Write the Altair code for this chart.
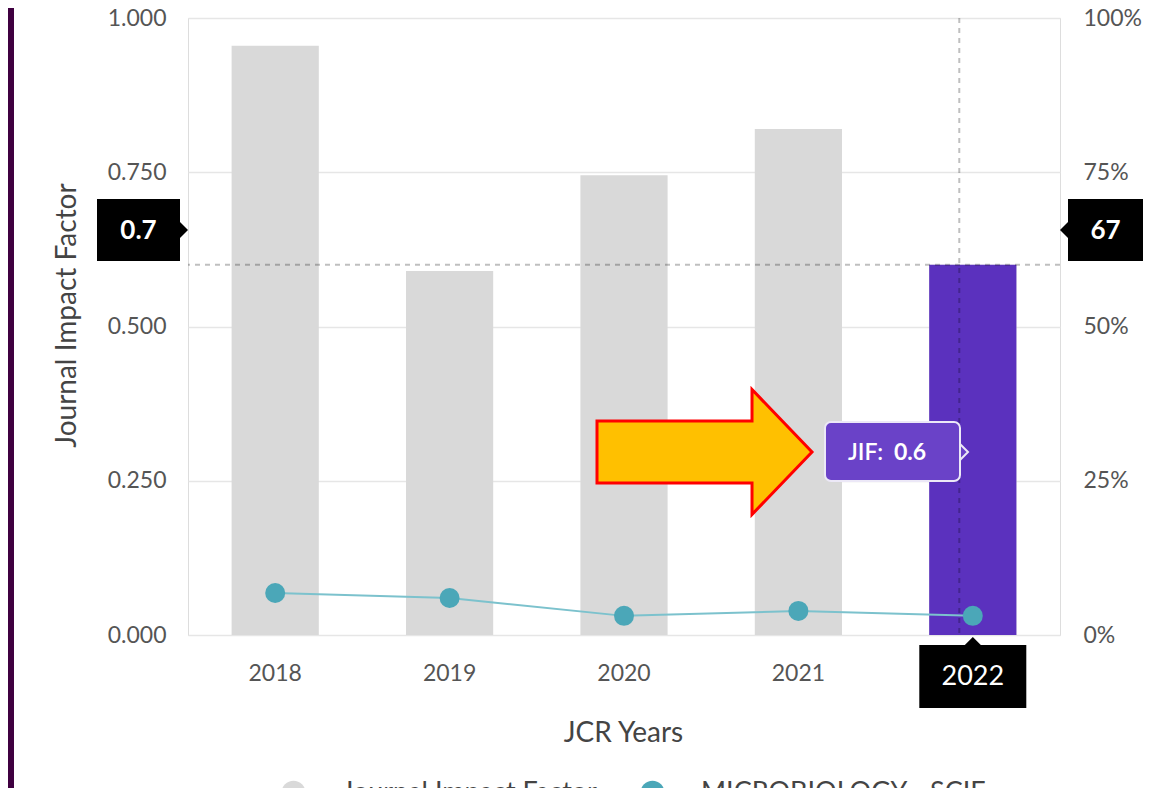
import altair as alt
import pandas as pd

# ---------------- data ----------------
years = ["2018", "2019", "2020", "2021", "2022"]
jif_values = [0.955, 0.59, 0.745, 0.82, 0.6]
category_pct = [6.8, 6.0, 3.1, 3.9, 3.1]
series_names = ["Journal Impact Factor", "MICROBIOLOGY - SCIE"]
series_colors = ["#d9d9d9", "#4ba7b8"]
highlight_year = "2022"
crosshair_jif = 0.6
left_marker_text = ["0.7"]
right_marker_text = ["67"]
tooltip_label = ["JIF:"]
tooltip_value = ["0.6"]
y_ticks = [0, 0.25, 0.5, 0.75, 1.0]
pct_ticks = [0, 25, 50, 75, 100]

FONT = "Lato"
W, H = 872, 617
PURPLE = "#5b31be"

bars_df = pd.DataFrame({"year": years, "jif": jif_values, "series": series_names[0]})
line_df = pd.DataFrame({"year": years, "pct": category_pct, "series": series_names[1]})
hl_df = bars_df[bars_df["year"] == highlight_year].reset_index(drop=True)
one = pd.DataFrame({"k": [0]})

x_axis = alt.Axis(labelFontSize=23, labelColor="#555", labelFont=FONT, labelPadding=27,
                  labelExpr=f"datum.label == '{highlight_year}' ? '' : datum.label",
                  ticks=False, domain=False, labelAngle=0, grid=False,
                  titleFontSize=28, titleColor="#444", titleFont=FONT, titleFontWeight="normal",
                  titleX=435, titleY=98, titleAlign="center", titleBaseline="middle")
x_scale = alt.Scale(domain=years, paddingInner=0.5, paddingOuter=0.25)


def xf(**kw):
    return alt.X("year:N", title="JCR Years", scale=x_scale, axis=x_axis, **kw)


y_scale = alt.Scale(domain=[0, 1], nice=False, zero=True)
y_axis = alt.Axis(values=y_ticks, format=".3f", labelFontSize=23, labelColor="#555", labelFont=FONT,
                  labelPadding=22, ticks=False, domain=False, gridColor="#e6e6e6", gridWidth=1.5,
                  titleFontSize=28, titleColor="#444", titleFont=FONT, titleFontWeight="normal",
                  titleX=-121, titleY=297, titleAngle=270, titleAlign="center", titleBaseline="middle")
y_title = "Journal Impact Factor"

pct_scale = alt.Scale(domain=[0, 100], nice=False, zero=True)
pct_axis = alt.Axis(values=pct_ticks, labelExpr="datum.value + '%'", orient="right", labelFontSize=23,
                    labelColor="#555", labelFont=FONT, labelPadding=23, ticks=False, domain=False,
                    grid=False, title=None)

color_enc = alt.Color("series:N", scale=alt.Scale(domain=series_names, range=series_colors),
                      legend=alt.Legend(orient="none", legendX=92, legendY=761, direction="horizontal",
                                        symbolType="circle", symbolSize=576, symbolStrokeWidth=0,
                                        labelFontSize=27, labelColor="#444", labelFont=FONT,
                                        labelOffset=35, columnPadding=42, labelLimit=0, padding=0,
                                        title=None))

# ---------------- left (JIF) layers ----------------
bars = alt.Chart(bars_df).mark_bar().encode(
    x=xf(), y=alt.Y("jif:Q", title=y_title, scale=y_scale, axis=y_axis), color=color_enc)
hl_bar = alt.Chart(hl_df).mark_bar(color=PURPLE).encode(
    x=xf(), y=alt.Y("jif:Q", title=y_title, scale=y_scale, axis=y_axis))
hrule = alt.Chart(one).mark_rule(color="black", opacity=0.25, strokeWidth=2, strokeDash=[5, 5]).encode(
    y=alt.YDatum(crosshair_jif, title=y_title, scale=y_scale, axis=y_axis))
vrule = alt.Chart(hl_df).mark_rule(color="black", opacity=0.25, strokeWidth=2, strokeDash=[5, 5]).encode(
    x=xf(bandPosition=0.345))
left = alt.layer(bars, hl_bar, hrule, vrule)

# ---------------- right (category %) layers ----------------
line = alt.Chart(line_df).mark_line(color="#7cc2cd", strokeWidth=2).encode(
    x=xf(), y=alt.Y("pct:Q", scale=pct_scale, axis=pct_axis))
pts = alt.Chart(line_df).mark_point(filled=True, size=400, opacity=1).encode(
    x=xf(), y=alt.Y("pct:Q", scale=pct_scale, axis=pct_axis), color=color_enc)
right = alt.layer(line, pts)

# ---------------- annotations ----------------
tri_right = "M-0.5,-1 L0.5,0 L-0.5,1 Z"
tri_left = "M0.5,-1 L-0.5,0 L0.5,1 Z"
tri_up = "M-1,0.5 L0,-0.5 L1,0.5 Z"
arrow_path = "M-1,-0.288 L0.442,-0.288 L0.442,-0.581 L1,0 L0.442,0.581 L0.442,0.288 L-1,0.288 Z"

frame = alt.Chart(one).mark_rect(color="#3f0040").encode(
    x=alt.value(-180), x2=alt.value(-174), y=alt.value(-10), y2=alt.value(770))

lbox = alt.Chart(one).mark_rect(color="black").encode(
    x=alt.value(-91), x2=alt.value(-8), y=alt.value(181), y2=alt.value(243))
lptr = alt.Chart(one).mark_point(shape=tri_right, size=256, filled=True, color="black", opacity=1).encode(
    x=alt.value(-4), y=alt.value(212))
ltxt = alt.Chart(pd.DataFrame({"t": left_marker_text})).mark_text(
    color="white", fontSize=26, fontWeight="bold", font=FONT, align="center", baseline="middle").encode(
    x=alt.value(-49.5), y=alt.value(213), text="t:N")

rbox = alt.Chart(one).mark_rect(color="black").encode(
    x=alt.value(880), x2=alt.value(955), y=alt.value(181), y2=alt.value(243))
rptr = alt.Chart(one).mark_point(shape=tri_left, size=256, filled=True, color="black", opacity=1).encode(
    x=alt.value(876), y=alt.value(212))
rtxt = alt.Chart(pd.DataFrame({"t": right_marker_text})).mark_text(
    color="white", fontSize=26, fontWeight="bold", font=FONT, align="center", baseline="middle").encode(
    x=alt.value(917.5), y=alt.value(213), text="t:N")

bbox = alt.Chart(hl_df).mark_bar(color="black", width=107).encode(
    x=xf(), y=alt.value(627), y2=alt.value(690))
bptr = alt.Chart(hl_df).mark_point(shape=tri_up, size=256, filled=True, color="black", opacity=1).encode(
    x=xf(), y=alt.value(623))
btxt = alt.Chart(hl_df).mark_text(color="white", fontSize=27, font=FONT, align="center",
                                  baseline="middle").encode(
    x=xf(), y=alt.value(659), text="year:N")

tbox = alt.Chart(one).mark_rect(color="#6a42c8", cornerRadius=6, stroke="#ece8f7", strokeWidth=2).encode(
    x=alt.value(637), x2=alt.value(772), y=alt.value(404), y2=alt.value(463))
tptr = alt.Chart(one).mark_point(shape=tri_right, size=256, filled=True, color="#6a42c8", opacity=1,
                                 stroke="#ece8f7", strokeWidth=2).encode(
    x=alt.value(776), y=alt.value(434))
tlab = alt.Chart(pd.DataFrame({"t": tooltip_label})).mark_text(
    color="white", fontSize=23, fontWeight=600, font=FONT, align="left", baseline="middle").encode(
    x=alt.value(660), y=alt.value(435), text="t:N")
tval = alt.Chart(pd.DataFrame({"t": tooltip_value})).mark_text(
    color="white", fontSize=23, fontWeight="bold", font=FONT, align="left", baseline="middle").encode(
    x=alt.value(706), y=alt.value(435), text="t:N")

arrow = alt.Chart(one).mark_point(shape=arrow_path, size=215 * 215, filled=True, fill="#ffc000",
                                  stroke="#ff0000", strokeWidth=3, opacity=1).encode(
    x=alt.value(516.5), y=alt.value(434))

annot = alt.layer(frame, lbox, lptr, ltxt, rbox, rptr, rtxt, bbox, bptr, btxt,
                  arrow, tbox, tptr, tlab, tval)

chart = alt.layer(left, right, annot).resolve_scale(y="independent").properties(
    width=W, height=H,
    autosize=alt.AutoSizeParams(type="none"),
    padding={"left": 180, "top": 10, "right": 83, "bottom": 153},
    background="white",
).configure_view(stroke=None).configure(font=FONT)

chart.save("out.html", embed_options={"renderer": "svg", "actions": False})
